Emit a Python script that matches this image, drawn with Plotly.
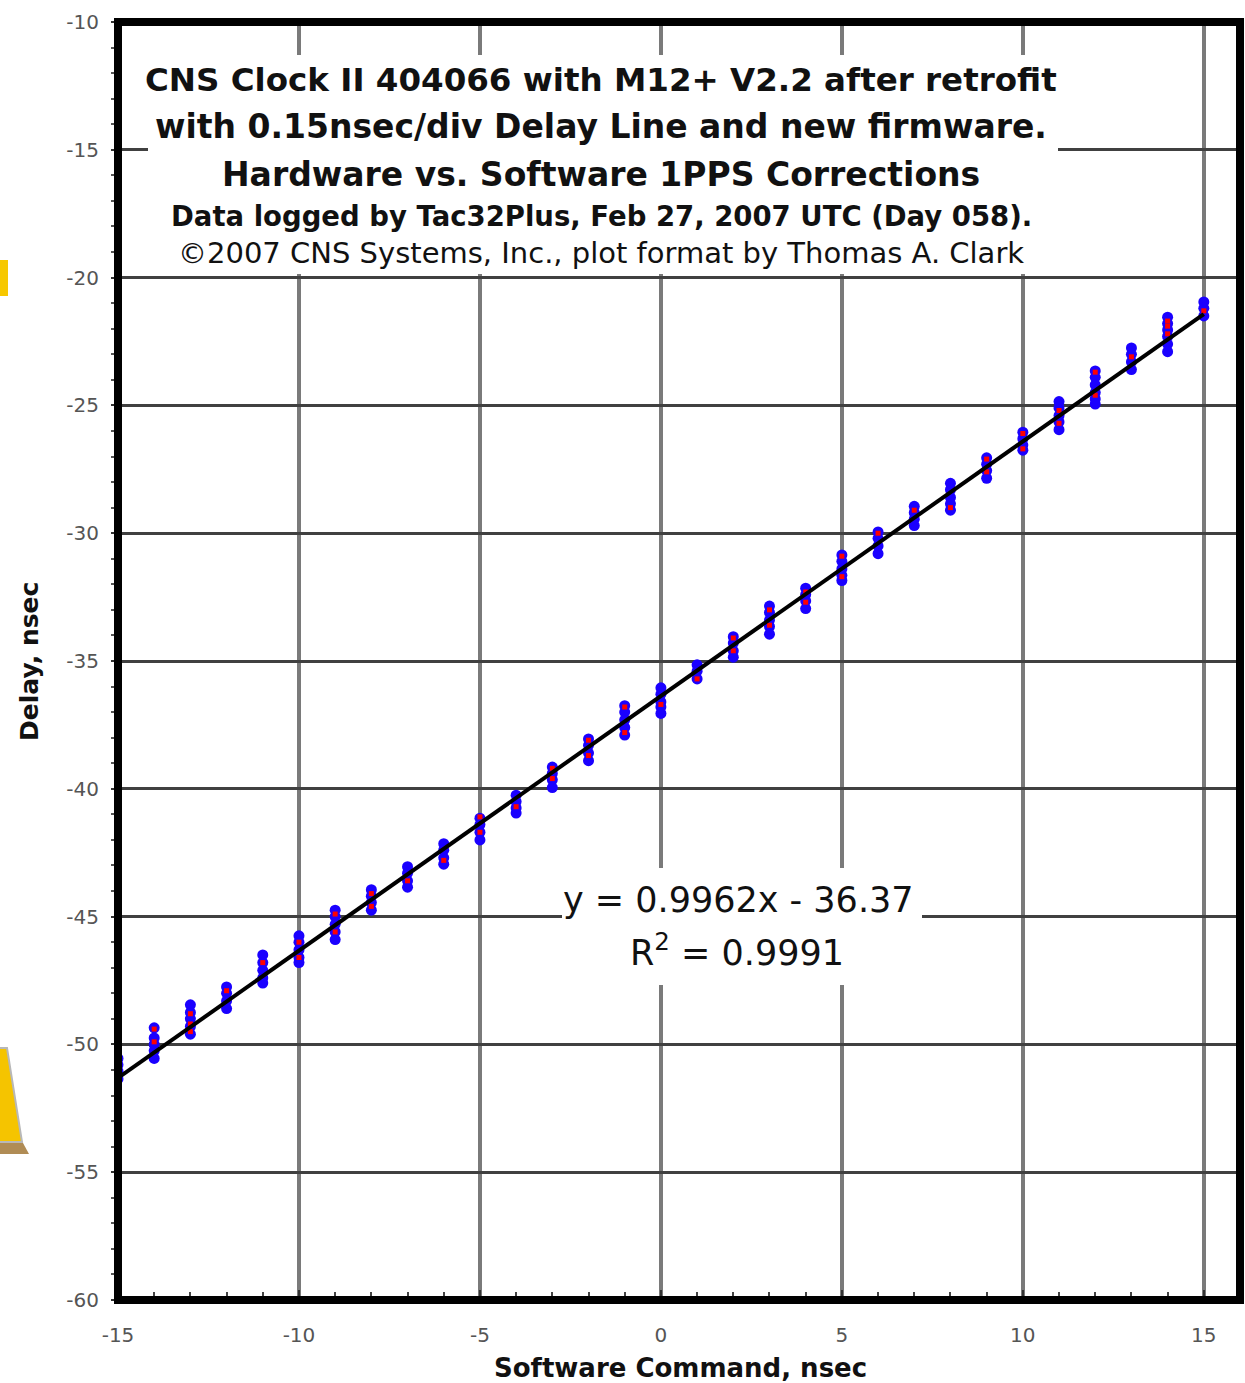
import plotly.graph_objects as go

# ---------------- data ----------------
commands = list(range(-15, 16))

hardware_delay = [
    [-50.55, -50.8, -51.05, -51.35],
    [-49.35, -49.75, -50.0, -50.25, -50.55],
    [-48.45, -48.75, -49.0, -49.3, -49.6],
    [-47.75, -48.0, -48.3, -48.6],
    [-46.5, -46.8, -47.1, -47.4, -47.6],
    [-45.75, -46.0, -46.3, -46.6, -46.8],
    [-44.75, -45.0, -45.3, -45.6, -45.9],
    [-43.95, -44.2, -44.45, -44.75],
    [-43.05, -43.3, -43.6, -43.85],
    [-42.15, -42.4, -42.7, -42.95],
    [-41.15, -41.4, -41.7, -42.0],
    [-40.25, -40.5, -40.75, -40.95],
    [-39.15, -39.4, -39.65, -39.95],
    [-38.05, -38.3, -38.6, -38.9],
    [-36.75, -37.0, -37.3, -37.6, -37.9],
    [-36.05, -36.3, -36.6, -36.8, -37.05],
    [-35.15, -35.4, -35.7],
    [-34.05, -34.3, -34.6, -34.85],
    [-32.85, -33.1, -33.4, -33.65, -33.95],
    [-32.15, -32.4, -32.65, -32.95],
    [-30.85, -31.1, -31.4, -31.65, -31.85],
    [-29.95, -30.2, -30.5, -30.8],
    [-28.95, -29.2, -29.45, -29.7],
    [-28.05, -28.3, -28.6, -28.85, -29.1],
    [-27.05, -27.3, -27.55, -27.85],
    [-26.05, -26.3, -26.55, -26.75],
    [-24.85, -25.1, -25.4, -25.65, -25.95],
    [-23.65, -23.9, -24.2, -24.5, -24.75, -24.95],
    [-22.75, -23.0, -23.3, -23.6],
    [-21.55, -21.8, -22.05, -22.3, -22.6, -22.9],
    [-20.95, -21.2, -21.5],
]

software_delay = [
    [-50.8],
    [-49.4, -49.9],
    [-48.8, -49.2, -49.5],
    [-47.9],
    [-46.8],
    [-46.0, -46.6],
    [-44.9, -45.6],
    [-44.1, -44.6],
    [-43.6],
    [-42.8],
    [-41.1, -41.7],
    [-40.7],
    [-39.2, -39.6],
    [-38.1, -38.7],
    [-36.8, -37.8],
    [-36.7],
    [-35.7],
    [-34.1, -34.6],
    [-33.0, -33.6],
    [-32.3, -32.7],
    [-30.9, -31.7],
    [-30.0],
    [-29.1],
    [-29.0],
    [-27.1, -27.6],
    [-26.1, -26.7],
    [-25.2, -25.7],
    [-23.7, -24.6],
    [-23.1],
    [-21.7, -21.9, -22.2],
    [-21.3],
]

fit_slope = 0.9962
fit_intercept = -36.37
fit_r2 = 0.9991

x_ticks = [-15, -10, -5, 0, 5, 10, 15]
y_ticks = [-60, -55, -50, -45, -40, -35, -30, -25, -20, -15, -10]

title_lines = [
    "CNS Clock II 404066 with M12+ V2.2 after retrofit",
    "with 0.15nsec/div Delay Line and new firmware.",
    "Hardware vs. Software 1PPS Corrections",
    "Data logged by Tac32Plus, Feb 27, 2007 UTC (Day 058).",
    "\u00a92007 CNS Systems, Inc., plot format by Thomas A. Clark",
]

# ---------------- figure ----------------
W, H = 1245, 1383
L, R, T, B = 118, 5, 22, 83
PW, PH = W - L - R, H - T - B
FONT = "DejaVu Sans, Verdana, sans-serif"


def px_x(p):
    return (p - L) / PW


def px_y(p):
    return (H - B - p) / PH


hx, hy, sx, sy = [], [], [], []
for c, vals in zip(commands, hardware_delay):
    hx += [c] * len(vals)
    hy += vals
for c, vals in zip(commands, software_delay):
    sx += [c] * len(vals)
    sy += vals

fig = go.Figure()
fig.add_trace(go.Scatter(
    x=hx, y=hy, mode="markers", name="Hardware",
    marker=dict(symbol="circle", size=11, color="#1a00ff",
                line=dict(width=0)),
))
fig.add_trace(go.Scatter(
    x=sx, y=sy, mode="markers", name="Software",
    marker=dict(symbol="square", size=5, color="#ff0000",
                line=dict(width=0)),
))
fx = [commands[0], commands[-1]]
fig.add_trace(go.Scatter(
    x=fx, y=[fit_slope * v + fit_intercept for v in fx], mode="lines",
    line=dict(color="black", width=4), name="fit",
))

shapes = [
    # title background
    dict(type="rect", xref="paper", yref="paper", layer="above",
         x0=px_x(148), x1=px_x(1058), y0=px_y(274), y1=px_y(55),
         fillcolor="white", line=dict(width=0)),
    # equation background
    dict(type="rect", xref="paper", yref="paper", layer="above",
         x0=px_x(562), x1=px_x(922), y0=px_y(985), y1=px_y(868),
         fillcolor="white", line=dict(width=0)),
    # thick frame
    dict(type="rect", xref="paper", yref="paper", layer="above",
         x0=0, x1=1, y0=0, y1=1, line=dict(color="black", width=8)),
    # decorative yellow bits at left edge
    dict(type="rect", xref="paper", yref="paper", layer="above",
         x0=px_x(0), x1=px_x(8), y0=px_y(296), y1=px_y(260),
         fillcolor="#f7c800", line=dict(width=0)),
    dict(type="path", xref="paper", yref="paper", layer="above",
         path=f"M {px_x(0)},{px_y(1143)} L {px_x(23)},{px_y(1143)} "
              f"L {px_x(29)},{px_y(1154)} L {px_x(0)},{px_y(1154)} Z",
         fillcolor="#b08c55", line=dict(width=0)),
    dict(type="path", xref="paper", yref="paper", layer="above",
         path=f"M {px_x(-2)},{px_y(1048)} L {px_x(7)},{px_y(1048)} "
              f"L {px_x(22)},{px_y(1142)} L {px_x(-2)},{px_y(1142)} Z",
         fillcolor="#f5c400", line=dict(color="#b8b8b8", width=2)),
]

title_sizes = [32.5, 33, 33, 27.5, 29]
title_bold = [True, True, True, True, False]
title_y = [80, 127, 174, 216, 253]
annotations = []
for txt, sz, bd, yy in zip(title_lines, title_sizes, title_bold, title_y):
    annotations.append(dict(
        xref="paper", yref="paper", x=px_x(601), y=px_y(yy),
        text=f"<b>{txt}</b>" if bd else txt, showarrow=False,
        xanchor="center", yanchor="middle",
        font=dict(family=FONT, size=sz, color="#111111"),
    ))

annotations += [
    dict(xref="paper", yref="paper", x=px_x(738), y=px_y(900),
         text=f"y = {fit_slope:.4f}x - {abs(fit_intercept):.2f}", showarrow=False,
         xanchor="center", yanchor="middle",
         font=dict(family=FONT, size=35, color="#111111")),
    dict(xref="paper", yref="paper", x=px_x(737), y=px_y(950),
         text=f"R<sup>2</sup> = {fit_r2:.4f}", showarrow=False,
         xanchor="center", yanchor="middle",
         font=dict(family=FONT, size=35, color="#111111")),
    dict(xref="paper", yref="paper", x=px_x(680), y=px_y(1368),
         text="<b>Software Command, nsec</b>", showarrow=False,
         xanchor="center", yanchor="middle",
         font=dict(family=FONT, size=26, color="#111111")),
    dict(xref="paper", yref="paper", x=px_x(29), y=px_y(662),
         text="<b>Delay, nsec</b>", showarrow=False, textangle=-90,
         xanchor="center", yanchor="middle",
         font=dict(family=FONT, size=25, color="#111111")),
]

fig.update_layout(
    width=W, height=H,
    margin=dict(l=L, r=R, t=T, b=B, pad=0),
    paper_bgcolor="white", plot_bgcolor="white",
    showlegend=False,
    shapes=shapes, annotations=annotations,
    font=dict(family=FONT, color="#333333"),
)

fig.update_xaxes(
    range=[-15, 16], tickmode="array", tickvals=x_ticks,
    ticktext=[str(v) for v in x_ticks],
    showgrid=True, gridcolor="#7a7a7a", gridwidth=4,
    zeroline=False, showline=False,
    ticks="inside", ticklen=10, tickwidth=2, tickcolor="#333333",
    minor=dict(dtick=1, tick0=0, ticks="inside", ticklen=8, tickwidth=2,
               tickcolor="#444444", showgrid=False),
    tickfont=dict(family=FONT, size=20, color="#555555"),
    ticklabelstandoff=21,
)
fig.update_yaxes(
    range=[-60, -10], tickmode="array", tickvals=y_ticks,
    ticktext=[str(v) for v in y_ticks],
    showgrid=True, gridcolor="#404040", gridwidth=3,
    zeroline=False, showline=False,
    ticks="outside", ticklen=6, tickwidth=2, tickcolor="#333333",
    minor=dict(dtick=1, tick0=0, ticks="outside", ticklen=6, tickwidth=2,
               tickcolor="#555555", showgrid=False),
    tickfont=dict(family=FONT, size=20, color="#555555"),
    ticklabelstandoff=8,
)

fig.write_html("out.html", config={"displayModeBar": False},
               post_script="document.body.style.margin='0';")
